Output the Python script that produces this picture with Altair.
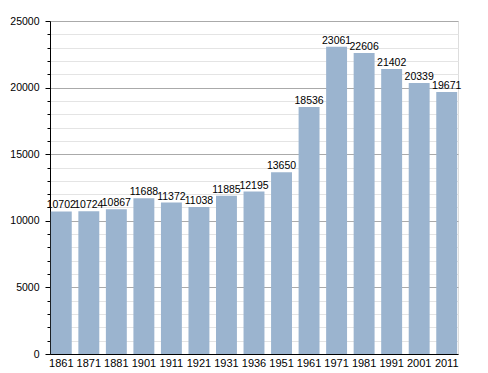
import altair as alt
import pandas as pd

years = ["1861", "1871", "1881", "1901", "1911", "1921", "1931", "1936",
         "1951", "1961", "1971", "1981", "1991", "2001", "2011"]
population = [10702, 10724, 10867, 11688, 11372, 11038, 11885, 12195,
              13650, 18536, 23061, 22606, 21402, 20339, 19671]
y_ticks = list(range(0, 25001, 1000))

df = pd.DataFrame({"year": years, "pop": population})

FONT = "Liberation Sans"

base = alt.Chart(df).encode(
    x=alt.X("year:N", sort=years, title=None,
            scale=alt.Scale(paddingInner=0.24, paddingOuter=0.03),
            axis=alt.Axis(labelAngle=0, ticks=False, labelPadding=3,
                          labelFont=FONT, labelFontSize=11, labelColor="black",
                          domainColor="black", domainWidth=1, grid=False)),
    y=alt.Y("pop:Q", title=None,
            scale=alt.Scale(domain=[0, 25000], nice=False),
            axis=alt.Axis(values=y_ticks,
                          labelExpr="datum.value % 5000 === 0 ? datum.label : ''",
                          labelOverlap=False,
                          format="d",
                          labelFont=FONT, labelFontSize=10.5, labelColor="black",
                          labelPadding=6,
                          domainColor="black", domainWidth=1,
                          tickColor="black",
                          tickSize=alt.ExprRef("datum.value % 5000 === 0 ? 5 : 3"),
                          gridColor=alt.ExprRef("datum.value % 5000 === 0 ? '#aaaaaa' : '#e4e4e4'"),
                          gridWidth=1)),
)

bars = base.mark_bar(color="#9bb4cf")

labels = base.mark_text(baseline="bottom", dy=-1, font=FONT, fontSize=10.5,
                        color="black").encode(
    text=alt.Text("pop:Q", format="d"),
)

chart = (bars + labels).properties(
    width=408, height=333,
    autosize=alt.AutoSizeParams(type="none"),
    padding={"left": 42, "top": 13, "right": 22, "bottom": 19},
).configure_view(stroke=None).configure(background="white")

chart.save("out.html", embed_options={"renderer": "svg", "actions": False})
